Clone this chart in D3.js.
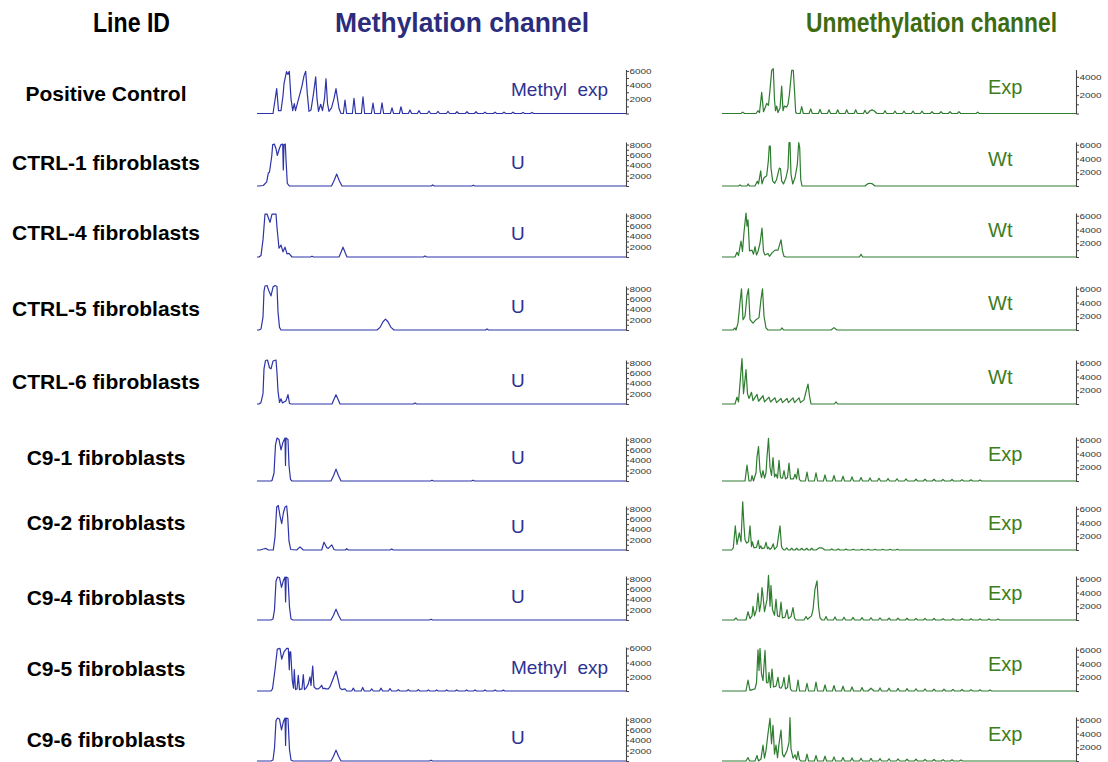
<!DOCTYPE html>
<html>
<head>
<meta charset="utf-8">
<script src="https://cdn.jsdelivr.net/npm/d3@7"></script>
<style>
  body { margin: 0; background: #fff; }
  svg { display: block; font-family: "Liberation Sans", Arial, sans-serif; }
</style>
</head>
<body>
<svg id="chart" width="1108" height="762"></svg>
<script>
// ---- Data -------------------------------------------------------------
const lineIds = [
  "Positive Control", "CTRL-1 fibroblasts", "CTRL-4 fibroblasts", "CTRL-5 fibroblasts",
  "CTRL-6 fibroblasts", "C9-1 fibroblasts", "C9-2 fibroblasts", "C9-4 fibroblasts",
  "C9-5 fibroblasts", "C9-6 fibroblasts"
];
const methylCalls = ["Methyl  exp", "U", "U", "U", "U", "U", "U", "U", "Methyl  exp", "U"];
const unmethylCalls = ["Exp", "Wt", "Wt", "Wt", "Wt", "Exp", "Exp", "Exp", "Exp", "Exp"];

// highest labelled tick (RFU) of each panel's signal axis
const methylAxisMax = [6000, 8000, 8000, 8000, 8000, 8000, 8000, 8000, 6000, 8000];
const unmethylAxisMax = [4000, 6000, 6000, 6000, 6000, 6000, 6000, 6000, 6000, 6000];

// Traces: flat lists of [position, RFU] vertices for the main peak clusters,
// plus repeat-ladder peaks as [position, RFU].
const methylTraces = [
  [0,0, 16,0, 19.7,3500, 21.5,400, 24,400, 26,2500, 27,4200, 29.5,5900, 31,5500, 32.3,5950, 34,2100, 35.7,400, 37.3,1400, 38.5,400, 40.5,1500, 43,2800, 45,3900, 47,5300, 48.7,5950, 50.3,2800, 52,300, 54,500, 56.5,2800, 58.7,5150, 60,2100, 61.5,300, 63.7,1300, 65.5,400, 67.5,2100, 69,4900, 70.5,1400, 72,300, 74.5,800, 77,2100, 79,3500, 80.5,2100, 82,700, 84,0],
  [0,0, 2,0, 6.3,100, 9.7,800, 11.3,2500, 12.5,2700, 14.7,5700, 15.7,8000, 17.3,8100, 19,7200, 20.3,5900, 22.3,7200, 24,8000, 25.7,8100, 26.3,3100, 27,8000, 28.3,8100, 29,5100, 30.3,500, 32.3,0, 74.5,0, 77,1000, 79.7,2300, 82.3,1000, 85,0],
  [0,0, 2,0, 4,300, 6,3300, 8,8300, 10,8300, 13,6700, 15,8300, 19,8300, 20,5700, 22,1700, 24,2300, 26,1000, 28,1900, 30,600, 32,700, 35,0, 82,0, 84,900, 86,1900, 88,900, 90,0],
  [0,0, 2,0, 4,200, 6,2500, 7,7500, 8,8500, 10,8600, 12,7500, 14,6600, 16,8300, 18,8600, 20,8400, 21,3500, 22.5,500, 24,0, 120,0, 123,500, 126,1600, 128.5,2100, 131,1600, 134,500, 137,0],
  [0,0, 2,0, 4,300, 6,2000, 7,6800, 8.5,8400, 10.5,8500, 12.5,7000, 14,6800, 16,8300, 19,8500, 20,6000, 21,2500, 22.5,300, 24,1000, 25.5,200, 27,400, 29,600, 31,1800, 32.5,100, 34,0, 75,0, 77,900, 79,1800, 81,900, 83,0],
  [0,0, 14,0, 15,100, 17,1500, 18.5,7000, 20,8300, 22,8000, 24,6000, 26,7500, 28,8300, 28.5,3000, 29,8300, 31,8000, 32,3000, 33.5,300, 35,0, 74,0, 76.5,1000, 79,2300, 81.5,1000, 84,0],
  [0,0, 3,0, 6.3,200, 9,300, 11.3,0, 16.3,0, 18,2500, 19.7,8300, 21.3,8600, 23,6600, 24.7,5100, 26.3,7100, 28,8300, 29.7,8500, 30.7,6300, 32,1700, 33.7,100, 39.7,0, 43,600, 46.3,0, 64.7,0, 67,1500, 69.7,500, 71.3,300, 74.7,1000, 77,100, 79,0],
  [0,0, 14,0, 16,200, 17.5,2000, 19,7500, 20.5,8300, 22.5,8200, 24.5,6300, 26.5,7700, 28,8300, 28.6,3500, 29.2,8300, 31,8100, 32.5,2500, 34,200, 36,0, 74,0, 76.5,900, 79,2100, 81.5,900, 84,0],
  [0,0, 14,0, 15.5,300, 18,3000, 20.3,5900, 23,6000, 24.7,4500, 27,5500, 29.7,6000, 31.3,6000, 32.3,3000, 32.8,5500, 33.7,5500, 35.3,1500, 36.5,400, 37.3,3000, 38.5,200, 40,300, 41.3,2200, 42.5,200, 45,300, 46.3,2300, 47.5,200, 49,400, 51.3,1000, 53,2000, 54,800, 55.7,3500, 57,600, 59,300, 61.3,300, 63,500, 64.7,800, 66,300, 67,400, 69,300, 71.3,300, 73,600, 76.3,1800, 79,2800, 81.3,1500, 83,400, 84.7,200, 88,300, 89.7,0],
  [0,0, 14,0, 16,200, 17.5,2500, 19,7800, 20.5,8300, 22.5,8100, 24.5,6000, 26.5,7700, 28,8300, 28.6,3000, 29.2,8300, 31,8200, 32.5,2200, 34,200, 36,0, 74,0, 76.5,900, 79,2100, 81.5,900, 84,0]
];
const methylLadders = [
  [[88,1900],[97,2150],[106,2350],[116,1450],[125,1500],[135,800],[144,950],[153,500],[162,400],[172,350],[181,300],[191,300],[200,250],[210,250],[219,250],[228,200],[238,200],[247,200],[256,200],[266,150],[275,150]],
  [[175.7,200],[216.3,150]],
  [[55,150],[168,200]],
  [[230,200]],
  [[158,200]],
  [[175,150],[216,150]],
  [[89.7,250],[134.7,200]],
  [[174,150]],
  [[96.3,400],[105.7,500],[114.7,300],[124,400],[133,350],[141.3,200],[151.3,200],[161.3,200],[171.3,150],[179.7,150],[189.7,150],[199.7,150],[209.7,150],[218,150],[228,150],[238,150],[246.3,120]],
  [[174,150]]
];

const unmethylTraces = [
  [0,0, 19,0, 20.7,150, 22.5,0, 34,0, 36,300, 37.5,100, 39.7,2300, 41.5,200, 43,600, 44.7,1100, 46.5,900, 48,2600, 49.7,4700, 51.3,4900, 52.5,1500, 53.5,300, 54.7,800, 56,100, 58,600, 59.7,3000, 61,300, 62.3,800, 64.7,700, 66,1000, 67.3,2000, 69.7,4700, 71.3,4700, 72.5,2500, 73.7,100, 75,0, 145.5,0, 148,300, 150,400, 152,300, 155,0],
  [0,0, 16.5,0, 18,150, 19.5,0, 25,0, 26.3,300, 27.5,0, 33,0, 35.3,700, 36.5,300, 38.7,2200, 40,300, 42,1200, 44.7,1500, 46.3,3600, 47.3,5800, 48.3,5800, 49,2600, 50.7,700, 52.7,400, 54.5,900, 57.3,2600, 58.5,2500, 59.7,700, 61.5,300, 64,1200, 66,2600, 67,6300, 68,6300, 69,1700, 70.7,300, 73,1200, 75.3,3100, 76.7,6300, 77.7,5600, 78.7,1000, 80,0, 143,0, 145.5,300, 148,400, 150.5,300, 153,0],
  [0,0, 13,0, 15,700, 16.5,200, 19,2300, 20.5,800, 22,3600, 24,6400, 25,4500, 26,5400, 27.5,900, 30,1000, 31.5,400, 33,1500, 34.5,300, 36,800, 38,2000, 40,4200, 41.5,800, 43,300, 46,500, 47.5,100, 50,600, 53,1000, 56,1000, 59,2500, 60.5,900, 62,100, 64,0],
  [0,0, 11,0, 13,300, 14,0, 16,1000, 18,4000, 19.5,6000, 21,1500, 23,2000, 25,5000, 26.5,6000, 28,1500, 31,1000, 34,1500, 37,1800, 39,4500, 40.5,6000, 42,2000, 44,300, 46,0, 109,0, 112,350, 115,0],
  [0,0, 13,0, 15,1000, 16.5,300, 18,3000, 20,6600, 21.5,1500, 23,3500, 24,5000, 25.5,1500, 27,800, 29.5,1700, 31,500, 35,1400, 36.5,400, 41,1200, 42.5,300, 47,1000, 48.5,300, 53,900, 54.5,200, 59,800, 60.5,200, 65,800, 66.5,200, 71,900, 72.5,200, 77,900, 78.5,200, 82,600, 84,1800, 86,2900, 87.5,1200, 89,0],
  [0,0, 23,0, 25,2300, 27,0, 29,0, 30,800, 31.5,0, 34,1200, 35,3500, 36.5,5000, 38,1500, 39.5,500, 41,1500, 42.5,400, 44,1200, 45,3500, 46.5,6200, 48,2000, 49.5,800, 51,3400, 52.5,600, 54,1000, 55.5,400, 57,3000, 58.5,500, 60.5,400, 62,1500, 63.5,300, 65.5,500, 67,2600, 68.5,300, 71.5,300, 73,1000, 74.5,300, 76,1800, 77.5,200, 79,0],
  [0,0, 9.7,0, 11.3,300, 13.3,3500, 15,800, 17.3,2500, 19,1200, 20.7,7000, 22,3500, 23,1500, 24.7,1000, 26.5,1200, 28,3500, 29.5,500, 30.3,1200, 32,300, 34.5,400, 36.3,1400, 37.5,200, 38.7,600, 40,200, 42.5,300, 44,1100, 45.5,200, 46.3,400, 48,100, 49.5,300, 51.3,900, 52.5,100, 55,500, 58,3500, 59.5,500, 60.5,200, 62,0, 94,0, 97,300, 100,300, 103,0],
  [0,0, 12,0, 14,300, 15.5,0, 24,0, 26,1200, 28,200, 30,600, 31,2000, 32.5,600, 34.5,1500, 36,3900, 37.5,1200, 39,2500, 40,4700, 41,3500, 42.5,1200, 45,3000, 46.5,6500, 48,2000, 49,5000, 50.5,1500, 52.5,700, 54,3000, 55.5,600, 57.5,500, 59,2600, 60.5,300, 63,400, 65,1500, 66.5,200, 69,500, 71,1800, 72.5,300, 74,0, 82,0, 84,500, 85.5,100, 89.5,600, 91,1500, 93,4500, 95,5700, 96.5,2000, 98,300, 100,0],
  [0,0, 24,0, 26,1600, 28,100, 33,300, 34.5,1200, 36,6000, 37,3000, 38,6200, 39.5,2500, 41,1500, 43,5900, 44.5,1200, 46,1200, 47,2700, 48.5,500, 50,3200, 51.5,600, 54,700, 56,2000, 57.5,500, 59,400, 60.5,800, 62,2000, 63.5,300, 65.5,500, 67,2300, 68.5,300, 70,0, 146,0, 149,400, 152,0],
  [0,0, 24,0, 26,500, 27.5,0, 33,0, 35,800, 36.5,0, 39,300, 41,2300, 42.5,400, 44,1500, 46,4000, 48,6200, 49.5,2500, 51,5200, 52.5,1000, 54,2300, 55.5,500, 57,2500, 59,4500, 60.5,1000, 62,600, 65,1500, 67,2700, 68,6300, 69,1800, 71,400, 73,900, 74.5,200, 76,1400, 77.5,200, 79,0]
];
const unmethylLadders = [
  [[79.7,750],[88.7,500],[98,450],[107,400],[115.7,400],[124.7,400],[133.7,400],[143,350],[163,300],[173,250],[182,250],[191,250],[200,250],[210,200],[219,200],[228,200],[237,200],[255.7,150]],
  [],
  [[139,400]],
  [[60,300]],
  [[114,300]],
  [[85,1300],[94,1200],[103,900],[112,800],[121,700],[130,600],[139,500],[148,450],[157,400],[166,350],[175,330],[184,300],[194,280],[203,260],[212,250],[221,230],[230,220],[240,200],[249,180],[258,160]],
  [[64.7,300],[69.7,250],[74.7,250],[79.7,250],[84.7,250],[89.7,250],[109.7,150],[116.3,150],[124,130],[131.3,120],[139.7,120],[146.3,110],[153,100],[160.7,100],[168,100],[175.3,100]],
  [[104,500],[113,450],[122,400],[131,380],[140,350],[149,330],[158,300],[167,280],[176,260],[185,250],[194,240],[203,230],[212,220],[221,200],[231,200],[240,180],[249,170],[258,160],[267,150],[276,140]],
  [[76,1600],[85,1100],[94,1300],[103,900],[112,800],[121,700],[130,600],[140,500],[158,450],[167,400],[176,380],[185,350],[194,330],[203,300],[212,280],[222,260],[231,240],[240,220],[249,200],[258,180],[268,160]],
  [[85,1000],[94,800],[103,700],[112,600],[121,500],[130,450],[139,400],[149,380],[158,350],[167,330],[176,300],[185,280],[194,260],[203,240],[212,220],[221,200],[230,180],[239,160]]
];

// ---- Layout -----------------------------------------------------------
const rowBase = [113.5, 186, 257, 330, 404, 481, 550, 620, 691, 761];
const rowLabelY = [101, 170, 240, 316, 389, 465, 530, 605, 676, 747];
const panelH = 44;
const channels = [
  { traces: methylTraces, ladders: methylLadders, axisMax: methylAxisMax, calls: methylCalls,
    x0: 257, x1: 626, extent: 369, stroke: "#2d34a8", callFill: "#2e3192", callX: 511, callDy: -17.5, callSize: 19,
    head: { "6000": 6200, "8000": 8500 } },
  { traces: unmethylTraces, ladders: unmethylLadders, axisMax: unmethylAxisMax, calls: unmethylCalls,
    x0: 722, x1: 1076, extent: 354, stroke: "#2f7d30", callFill: "#3d7d1c", callX: 988, callDy: -20, callSize: 20,
    head: { "4000": 4800, "6000": 6400 } }
];

const svg = d3.select("#chart");

// ---- Column headers -----------------------------------------------------
const headers = [
  { text: "Line ID", x: 131.5, len: 77, fill: "#000" },
  { text: "Methylation channel", x: 462, len: 254, fill: "#2b2c7c" },
  { text: "Unmethylation channel", x: 931.5, len: 251, fill: "#3d6b12" }
];
svg.selectAll("text.header").data(headers).join("text")
  .attr("class", "header")
  .attr("x", d => d.x).attr("y", 32)
  .attr("text-anchor", "middle")
  .attr("font-size", 27).attr("font-weight", "bold")
  .attr("fill", d => d.fill)
  .attr("textLength", d => d.len).attr("lengthAdjust", "spacingAndGlyphs")
  .text(d => d.text);

// ---- Row labels ---------------------------------------------------------
svg.selectAll("text.rowlabel").data(lineIds).join("text")
  .attr("class", "rowlabel")
  .attr("x", 106).attr("y", (d, i) => rowLabelY[i])
  .attr("text-anchor", "middle")
  .attr("font-size", 21).attr("font-weight", "bold")
  .text(d => d);

// ---- Trace panels -------------------------------------------------------
const line = d3.line();

channels.forEach(ch => {
  const x = d3.scaleLinear().domain([0, ch.extent]).range([ch.x0, ch.x1]);
  ch.traces.forEach((flat, i) => {
    const base = rowBase[i];
    const top = ch.head[String(ch.axisMax[i])];
    const y = d3.scaleLinear().domain([0, top]).range([base, base - panelH]);

    // vertices of the trace: cluster outline + ladder peaks, sorted by position
    const pts = [];
    for (let k = 0; k < flat.length; k += 2) pts.push([flat[k], flat[k + 1]]);
    ch.ladders[i].forEach(([p, h]) => {
      pts.push([p - 1.6, 0], [p, h], [p + 1.6, 0]);
    });
    pts.push([ch.extent, 0]);
    pts.sort((a, b) => a[0] - b[0]);

    const g = svg.append("g");
    g.append("path")
      .attr("d", line.x(d => x(d[0])).y(d => y(d[1]))(pts))
      .attr("fill", "none")
      .attr("stroke", ch.stroke)
      .attr("stroke-width", 1.2)
      .attr("stroke-linejoin", "round");

    // signal axis on the right edge of the panel
    const axis = d3.axisRight(y)
      .tickValues(d3.range(0, ch.axisMax[i] + 1, 1000))
      .tickSize(3).tickSizeOuter(0).tickPadding(0.5)
      .tickFormat(v => (v > 0 && v % 2000 === 0) ? v : "");
    const ag = g.append("g")
      .attr("transform", `translate(${ch.x1},0)`)
      .call(axis);
    ag.select(".domain").attr("stroke", "#444").attr("stroke-width", 1.1);
    ag.selectAll(".tick line").attr("stroke", "#444");
    ag.selectAll(".tick text")
      .attr("font-size", 8).attr("fill", "#333")
      .attr("font-family", "Liberation Sans, Arial, sans-serif")
      .filter(function () { return this.textContent !== ""; })
      .attr("textLength", 22).attr("lengthAdjust", "spacingAndGlyphs");

    // genotype call written inside the panel
    g.append("text")
      .attr("x", ch.callX).attr("y", base + ch.callDy)
      .attr("font-size", ch.callSize)
      .attr("fill", ch.callFill)
      .style("white-space", "pre")
      .text(ch.calls[i]);
  });
});
</script>
</body>
</html>
